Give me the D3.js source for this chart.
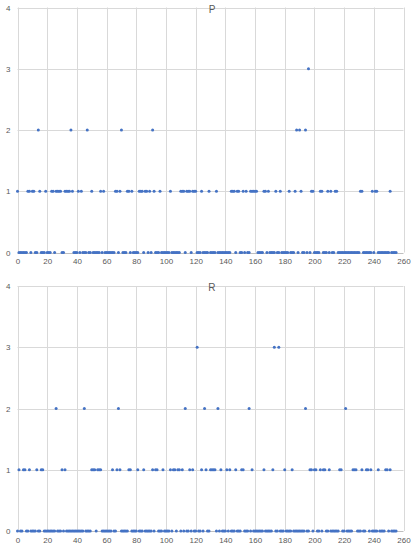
<!DOCTYPE html>
<html>
<head>
<meta charset="utf-8">
<script src="https://cdn.jsdelivr.net/npm/d3@7"></script>
<style>
  html, body { margin: 0; padding: 0; background: #fff; }
  svg { display: block; font-family: "Liberation Sans", Arial, sans-serif; }
  .tick text { fill: #595959; font-size: 8px; }
  .title { fill: #595959; font-size: 10px; }
</style>
</head>
<body>
<div id="chart"></div>
<script>
// Sample value read for each index 0..255
const pValues = [
  1,0,0,0,0,0,0,1,1,0,1,1,0,0,2,1,0,0,0,1,
  0,0,0,1,1,0,1,1,1,1,0,0,1,1,1,1,2,1,0,0,
  0,1,0,1,0,0,0,2,0,0,1,0,0,0,0,0,1,0,1,0,
  0,0,0,0,0,0,1,1,0,1,2,0,0,0,1,1,0,1,0,0,
  0,0,1,1,1,0,1,1,0,1,0,2,1,0,0,0,1,0,0,0,
  0,0,0,1,0,0,0,0,0,0,1,1,1,0,1,1,1,0,1,1,
  1,0,0,0,1,0,0,0,0,1,0,0,0,0,1,0,0,0,0,0,
  0,0,0,0,1,1,1,0,1,1,0,0,1,0,1,0,0,1,1,1,
  1,1,0,0,0,0,1,1,0,1,0,0,0,0,1,0,0,1,0,0,
  0,0,0,1,0,0,0,1,2,0,2,1,0,0,2,0,3,0,1,1,
  0,0,0,0,1,1,0,0,0,1,0,1,0,0,1,1,0,0,0,0,
  0,0,0,0,0,0,0,0,0,0,0,1,1,0,0,0,0,0,0,1,
  0,1,1,0,0,0,0,0,0,0,0,1,0,0,0,0
];

const rValues = [
  0,1,0,0,1,1,0,0,1,0,0,0,0,1,0,0,1,1,0,0,
  0,0,0,0,0,0,2,0,0,0,1,0,1,0,0,0,0,0,0,0,
  0,0,0,0,0,2,0,0,0,0,1,1,1,0,1,1,1,0,0,0,
  0,0,0,0,1,0,0,1,2,1,0,0,0,0,0,1,1,0,0,0,
  0,1,0,0,0,1,0,0,0,0,0,1,0,1,1,0,0,0,1,0,
  0,0,0,1,0,1,1,0,1,1,0,1,0,2,0,0,1,0,1,0,
  0,3,0,0,1,0,2,1,0,0,1,1,1,1,0,2,0,1,0,0,
  0,1,0,1,0,0,0,1,0,0,0,1,1,0,0,0,2,0,1,0,
  0,0,0,0,0,0,1,0,0,0,0,0,1,3,0,0,3,0,0,0,
  1,0,0,0,0,1,0,0,0,0,0,0,0,0,2,0,0,1,1,0,
  1,1,0,0,1,0,1,1,0,0,1,0,0,0,0,0,0,1,1,0,
  0,2,0,0,0,0,1,1,1,0,0,0,1,0,0,1,1,0,1,0,
  0,0,0,1,0,0,0,0,1,1,0,1,0,0,0,0
];

const xTicks = [0, 20, 40, 60, 80, 100, 120, 140, 160, 180, 200, 220, 240, 260];
const yTicks = [0, 1, 2, 3, 4];

const panels = [
  { title: 'P', values: pValues, top: 7.5, bottom: 252.5 },
  { title: 'R', values: rValues, top: 286, bottom: 531 }
];

const W = 414, H = 550;
const left = 17.5, right = 403.5;

const svg = d3.select('#chart').append('svg')
  .attr('width', W)
  .attr('height', H);

panels.forEach(p => {
  const x = d3.scaleLinear().domain([0, 260]).range([left, right]);
  const y = d3.scaleLinear().domain([0, 4]).range([p.bottom, p.top]);
  const g = svg.append('g');

  // Gridlines
  g.append('g')
    .selectAll('line')
    .data(xTicks)
    .join('line')
    .attr('x1', d => Math.round(x(d)) + 0.5).attr('x2', d => Math.round(x(d)) + 0.5)
    .attr('y1', p.top).attr('y2', p.bottom)
    .attr('stroke', '#d9d9d9');

  g.append('g')
    .selectAll('line')
    .data(yTicks)
    .join('line')
    .attr('x1', left).attr('x2', right)
    .attr('y1', d => Math.round(y(d)) + 0.5).attr('y2', d => Math.round(y(d)) + 0.5)
    .attr('stroke', d => d === 0 ? '#bfbfbf' : '#d9d9d9');

  // Axes (labels only)
  const xAxis = g.append('g')
    .attr('transform', `translate(0,${p.bottom + 4})`)
    .call(d3.axisBottom(x).tickValues(xTicks).tickFormat(d3.format('d')).tickSize(0).tickPadding(2));
  xAxis.select('.domain').remove();

  const yAxis = g.append('g')
    .attr('transform', `translate(${left - 7},0)`)
    .call(d3.axisLeft(y).tickValues(yTicks).tickFormat(d3.format('d')).tickSize(0).tickPadding(0));
  yAxis.select('.domain').remove();

  // Points
  g.append('g')
    .selectAll('circle')
    .data(p.values)
    .join('circle')
    .attr('cx', (d, i) => x(i))
    .attr('cy', d => y(d))
    .attr('r', 1.5)
    .attr('fill', '#4472c4');

  g.append('text')
    .attr('class', 'title')
    .attr('x', x(131))
    .attr('y', p.top + 5)
    .attr('text-anchor', 'middle')
    .text(p.title);
});
</script>
</body>
</html>
